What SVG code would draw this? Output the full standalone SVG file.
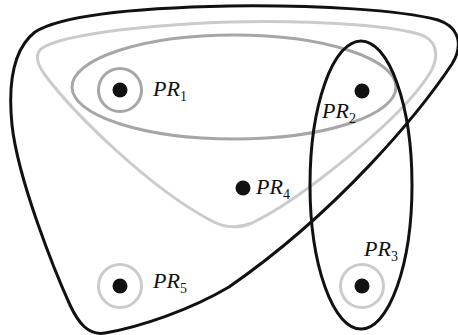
<svg xmlns="http://www.w3.org/2000/svg" width="458" height="335" viewBox="0 0 458 335">
<style>
.blk{fill:none;stroke:#111;stroke-width:3}
.lg{fill:none;stroke:#cbcbcb;stroke-width:3}
.mg{fill:none;stroke:#a6a6a6;stroke-width:3}
.dot{fill:#111}
.lbl{font-family:"Liberation Serif",serif;font-style:italic;font-size:22px;fill:#111}
.sub{font-family:"Liberation Serif",serif;font-style:normal;font-size:14px;fill:#111}
</style>
<rect width="458" height="335" fill="#fff"/>
<g id="connectors">
<path id="set-outer" class="blk" d="M 105 333 C 88 336 78 322 70 305 C 55 272 18 180 12 125 C 8 85 12 50 35 32 C 60 16 130 8 229 6 C 320 5 400 10 438 20 C 462 28 462 48 452 64 C 420 112 340 210 229 287 C 190 310 140 327 105 333 Z"/>
<path id="set-light" class="lg" d="M 40 50 C 52 38 120 26 229 22 C 320 20 400 26 424 36 C 440 44 438 62 428 76 C 400 120 300 200 252 223 C 238 229 224 228 210 220 C 150 188 75 115 45 75 C 37 64 35 56 40 50 Z"/>
<ellipse id="set-mid" class="mg" cx="234" cy="87" rx="162" ry="52"/>
<ellipse id="set-vert" class="blk" cx="361" cy="185" rx="51" ry="144"/>
</g>
<g id="PR1">
<circle cx="120" cy="90" r="21.5" class="mg"/>
<circle cx="120" cy="90" r="7.5" class="dot"/>
<text x="153" y="96" class="lbl">PR<tspan class="sub" dy="5">1</tspan></text>
</g>
<g id="PR2">
<circle cx="362" cy="91" r="7.5" class="dot"/>
<text x="322" y="118" class="lbl">PR<tspan class="sub" dy="5">2</tspan></text>
</g>
<g id="PR3">
<circle cx="362" cy="286" r="21.5" class="lg"/>
<circle cx="362" cy="286" r="7.5" class="dot"/>
<text x="364" y="256" class="lbl">PR<tspan class="sub" dy="5">3</tspan></text>
</g>
<g id="PR4">
<circle cx="243" cy="188" r="7.5" class="dot"/>
<text x="256" y="194" class="lbl">PR<tspan class="sub" dy="5">4</tspan></text>
</g>
<g id="PR5">
<circle cx="120" cy="286" r="21.5" class="lg"/>
<circle cx="120" cy="286" r="7.5" class="dot"/>
<text x="153" y="288" class="lbl">PR<tspan class="sub" dy="5">5</tspan></text>
</g>
</svg>
